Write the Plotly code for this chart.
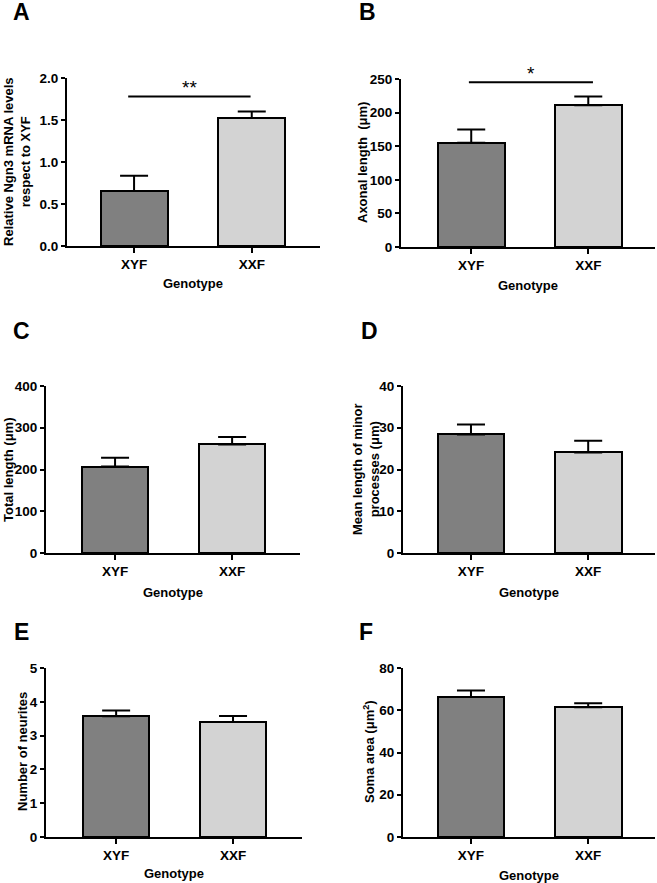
import plotly.graph_objects as go

genotypes = ["XYF", "XXF"]

# medias y error (SEM)
ngn3_mean = [0.655, 1.525]
ngn3_sem = [0.18, 0.075]
axonal_mean = [155, 211]
axonal_sem = [20, 13]
total_mean = [207, 260]
total_sem = [21, 18]
minor_mean = [28.4, 24.1]
minor_sem = [2.4, 2.8]
neurites_mean = [3.57, 3.40]
neurites_sem = [0.17, 0.18]
soma_mean = [66.3, 61.4]
soma_sem = [3.0, 1.9]

# barras de significancia (solo A y B)
sig_a_x = [-0.05, 0.99]
sig_a_y = 1.78
sig_a_text = "**"
sig_b_x = [-0.02, 1.04]
sig_b_y = 245
sig_b_text = "*"

W, H = 657, 883
FONT = "Liberation Sans, Arial, sans-serif"
bar_colors = ["#808080", "#d3d3d3"]

# paneles: (media, sem, rango y, paso, formato, dominio x px, dominio y px, rango x)
panels = [
    (ngn3_mean, ngn3_sem, 2.0, 0.5, ".1f", (67, 320), (78, 246), (-0.57, 1.58)),
    (axonal_mean, axonal_sem, 250, 50, "d", (401, 655), (79, 247), (-0.6, 1.57)),
    (total_mean, total_sem, 400, 100, "d", (46, 300), (386, 553), (-0.59, 1.58)),
    (minor_mean, minor_sem, 40, 10, "d", (403, 655), (386, 553), (-0.58, 1.57)),
    (neurites_mean, neurites_sem, 5, 1, "d", (46, 302), (668, 837), (-0.6, 1.59)),
    (soma_mean, soma_sem, 80, 20, "d", (403, 655), (668, 837), (-0.58, 1.57)),
]

tickfont = dict(family=FONT, size=13.5, color="black", weight="bold")

fig = go.Figure()
layout = {}
for i, (mean, sem, ymax, dtick, fmt, xd, yd, xr) in enumerate(panels):
    n = "" if i == 0 else str(i + 1)
    fig.add_trace(go.Bar(
        x=[0, 1], y=mean, width=0.57,
        marker=dict(color=bar_colors, line=dict(color="black", width=2)),
        error_y=dict(type="data", array=sem, arrayminus=[0, 0], symmetric=False,
                     color="black", thickness=2, width=14),
        xaxis="x" + n, yaxis="y" + n, showlegend=False))
    layout["xaxis" + n] = dict(
        domain=[xd[0] / W, xd[1] / W], anchor="y" + n, range=list(xr),
        tickmode="array", tickvals=[0, 1], ticktext=genotypes,
        showline=True, linewidth=2, linecolor="black", ticks="outside",
        ticklen=5, tickwidth=2, tickcolor="black", showgrid=False, zeroline=False,
        tickfont=tickfont, automargin=False)
    layout["yaxis" + n] = dict(
        domain=[1 - yd[1] / H, 1 - yd[0] / H], anchor="x" + n, range=[0, ymax],
        dtick=dtick, tickformat=fmt, showline=True, linewidth=2, linecolor="black",
        ticks="outside", ticklen=4, tickwidth=2, tickcolor="black", showgrid=False,
        zeroline=False, tickfont=tickfont, automargin=False)

# barras de significancia
for ax, sx, sy, st in [("", sig_a_x, sig_a_y, sig_a_text), ("2", sig_b_x, sig_b_y, sig_b_text)]:
    fig.add_trace(go.Scatter(x=sx, y=[sy, sy], mode="lines", line=dict(color="black", width=2),
                             xaxis="x" + ax, yaxis="y" + ax, cliponaxis=False, showlegend=False,
                             hoverinfo="skip"))
    fig.add_annotation(x=sum(sx) / 2, y=sy, xref="x" + ax, yref="y" + ax, text=st,
                       showarrow=False, yanchor="middle", yshift=9,
                       font=dict(family=FONT, size=19, color="black"))

fig.update_layout(**layout)

annots = []
# letras de panel
for letter, px_, py_ in [("A", 21, 12), ("B", 367, 12), ("C", 21, 331), ("D", 369, 331),
                         ("E", 21, 632), ("F", 366, 632)]:
    annots.append(dict(x=px_ / W, y=1 - py_ / H, xref="paper", yref="paper", text=letter,
                       showarrow=False, xanchor="center", yanchor="middle",
                       font=dict(family=FONT, size=23, color="black", weight="bold")))

# titulos eje y
ytitles = [
    ("Relative Ngn3 mRNA levels<br>respect to XYF", 17, 162),
    ("Axonal length  (μm)", 363, 163),
    ("Total length (μm)", 9, 470),
    ("Mean length of minor<br>processes (μm)", 366, 470),
    ("Number of neurites", 22, 752),
    ("Soma area (μm<sup>2</sup>)", 369, 752),
]
for t, px_, py_ in ytitles:
    annots.append(dict(x=px_ / W, y=1 - py_ / H, xref="paper", yref="paper", text=t,
                       textangle=-90, showarrow=False, xanchor="center", yanchor="middle",
                       font=dict(family=FONT, size=13, color="black", weight="bold")))

# titulos eje x
for px_, py_ in [(193, 283), (528, 285), (173, 592), (529, 592), (174, 873), (529, 875)]:
    annots.append(dict(x=px_ / W, y=1 - py_ / H, xref="paper", yref="paper", text="Genotype",
                       showarrow=False, xanchor="center", yanchor="middle",
                       font=dict(family=FONT, size=13, color="black", weight="bold")))

for a in annots:
    fig.add_annotation(**a)

fig.update_layout(width=W, height=H,
                  margin=dict(l=0, r=0, t=0, b=0, pad=0, autoexpand=False),
                  paper_bgcolor="white", plot_bgcolor="white", bargap=0, showlegend=False)

fig.write_html("out.html", config={"displayModeBar": False},
               post_script="document.body.style.margin='0';document.body.style.overflow='hidden';")
